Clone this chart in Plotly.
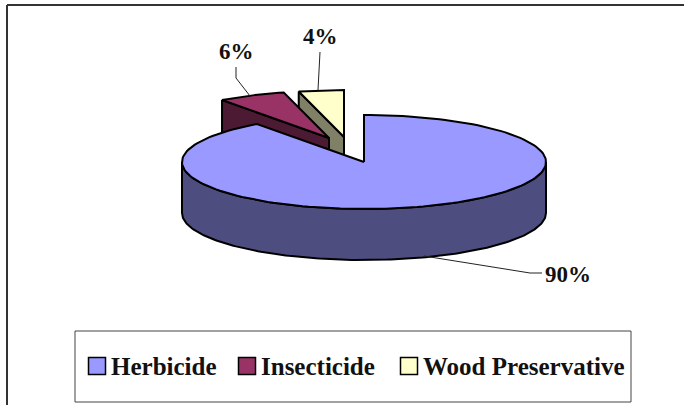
import numpy as np
import plotly.graph_objects as go

categories = ["Herbicide", "Insecticide", "Wood Preservative"]
values = [90, 6, 4]
labels = ["90%", "6%", "4%"]

top_colors = ["#9999FF", "#993366", "#FFFFCC"]
side_colors = ["#4D4D80", "#4D1A33", "#808066"]

# pie geometry, in pixels of the page
cx, cy = 364, 162
rx, ry = 182, 47
depth = 51
# how far each slice is pulled out of the pie
offsets = [(0, 0), (-35, -24), (-20, -25)]


def arc(a0, a1, dx=0, dy=0):
    t = np.radians(np.linspace(a0, a1, 160))
    return cx + dx + rx * np.sin(t), cy + dy - ry * np.cos(t)


def poly(fig, xs, ys, color, width=2):
    fig.add_trace(
        go.Scatter(
            x=list(xs),
            y=list(ys),
            mode="lines",
            fill="toself",
            fillcolor=color,
            line=dict(color="black", width=width),
            showlegend=False,
            hoverinfo="skip",
        )
    )


# slice angles from the values, clockwise from 12 o'clock
edges = np.cumsum([0] + values) / sum(values) * 360

fig = go.Figure()

# pulled out slices first, herbicide goes over their walls
for i in [2, 1]:
    dx, dy = offsets[i]
    ax, ay = arc(edges[i], edges[i + 1], dx, dy)
    px, py = cx + dx, cy + dy
    # cut face, down from the first edge of the slice
    poly(
        fig,
        [ax[0], px, px, ax[0], ax[0]],
        [ay[0], py, py + depth, ay[0] + depth, ay[0]],
        side_colors[i],
    )
    poly(
        fig,
        np.r_[px, ax, px],
        np.r_[py, ay, py],
        top_colors[i],
    )

# herbicide wall, front half of the ellipse
fx, fy = arc(90, 270)
poly(
    fig,
    np.r_[fx, fx[::-1], fx[0]],
    np.r_[fy, fy[::-1] + depth, fy[0]],
    side_colors[0],
)
hx, hy = arc(edges[0], edges[1])
poly(fig, np.r_[cx, hx, cx], np.r_[cy, hy, cy], top_colors[0])

# legend, placed by hand so it sits like the original box
legend_swatch_x = [97, 247, 409]
legend_text_x = [109, 259, 421]
legend_y = 366
for name, color, sx, tx in zip(categories, top_colors, legend_swatch_x, legend_text_x):
    fig.add_trace(
        go.Scatter(
            x=[sx],
            y=[legend_y],
            mode="markers",
            name=name,
            showlegend=False,
            hoverinfo="name",
            marker=dict(
                symbol="square",
                size=17,
                color=color,
                line=dict(color="black", width=1.5),
            ),
        )
    )
    fig.add_annotation(
        x=tx,
        y=legend_y,
        text=f"<b>{name}</b>",
        xanchor="left",
        showarrow=False,
        font=dict(family="Liberation Serif", size=25, color="#111111"),
    )

# leader lines
leaders = [
    ([424, 530, 542], [256, 273, 273]),
    ([236, 236, 250], [67, 78, 96]),
    ([320, 318], [52, 90]),
]
for lx, ly in leaders:
    fig.add_trace(
        go.Scatter(
            x=lx,
            y=ly,
            mode="lines",
            line=dict(color="#222222", width=1),
            showlegend=False,
            hoverinfo="skip",
        )
    )

label_pos = [(568, 274), (236, 51), (320, 36)]
for text, (x, y) in zip(labels, label_pos):
    fig.add_annotation(
        x=x,
        y=y,
        text=f"<b>{text}</b>",
        showarrow=False,
        font=dict(family="Liberation Serif", size=23, color="#111111"),
    )

fig.update_layout(
    width=684,
    height=405,
    margin=dict(l=0, r=0, t=0, b=0),
    paper_bgcolor="white",
    plot_bgcolor="white",
    showlegend=False,
    xaxis=dict(visible=False, range=[0, 684], fixedrange=True),
    yaxis=dict(visible=False, range=[405, 0], fixedrange=True),
    shapes=[
        # chart frame, right side is cut off in the original
        dict(type="line", xref="x", yref="y", x0=7, x1=7, y0=5, y1=405,
             line=dict(color="#333333", width=2)),
        dict(type="line", xref="x", yref="y", x0=7, x1=684, y0=5, y1=5,
             line=dict(color="#333333", width=2)),
        # legend box
        dict(type="rect", xref="x", yref="y", x0=75, x1=631, y0=331, y1=402,
             line=dict(color="#444444", width=1)),
    ],
)

fig.write_html(
    "out.html",
    config=dict(displayModeBar=False),
    post_script="document.body.style.margin = '0';",
)
